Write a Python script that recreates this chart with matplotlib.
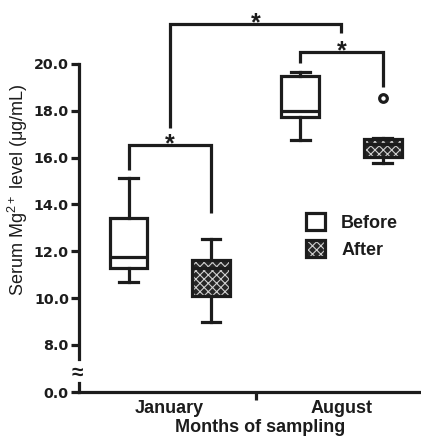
import matplotlib
matplotlib.use('Agg')
import matplotlib.pyplot as plt
from matplotlib.patches import PathPatch, Patch
from matplotlib.ticker import FormatStrFormatter

plt.rcParams['font.family'] = ['Liberation Sans', 'DejaVu Sans']
plt.rcParams['mathtext.fontset'] = 'custom'
plt.rcParams['mathtext.rm'] = 'Liberation Sans'
plt.rcParams['mathtext.it'] = 'Liberation Sans:italic'
plt.rcParams['hatch.linewidth'] = 0.8

# ---------------- data ----------------
months = ['January', 'August']
groups = ['Before', 'After']
# order: Jan-Before, Jan-After, Aug-Before, Aug-After  (µg/mL)
whislo = [10.69, 9.00, 16.75, 15.79]
q1 = [11.29, 10.11, 17.75, 16.02]
med = [11.76, 11.28, 18.01, 16.60]
q3 = [13.40, 11.63, 19.50, 16.78]
whishi = [15.13, 12.53, 19.65, 16.85]
fliers = [[], [], [], [18.53]]
y_ticks = [8, 10, 12, 14, 16, 18, 20]
# significance brackets within month: bar height, left leg end, right leg end
sig_bar = [16.54, 20.51]
sig_left_end = [15.47, 20.04]
sig_right_end = [13.64, 19.02]
# bracket between months
top_bar = 21.71
top_left_end = 17.27
top_right_end = 21.32

# ---------------- layout ----------------
W, H = 421, 440
fig = plt.figure(figsize=(W / 100, H / 100), dpi=100)


def fax(x0, y_top, x1, y_bot):
    return [x0 / W, 1 - y_bot / H, (x1 - x0) / W, (y_bot - y_top) / H]


ax = fig.add_axes(fax(79, 0, 421, 359))
axb = fig.add_axes(fax(79, 383, 421, 392))

dark = '#1c1c1c'
lw = 2.3
d = 0.24
group_x = [1, 2]
positions = [group_x[0] - d, group_x[0] + d, group_x[1] - d, group_x[1] + d]
xlim = (0.4716, 2.463)

stats = [dict(whislo=whislo[i], q1=q1[i], med=med[i], q3=q3[i],
              whishi=whishi[i], fliers=fliers[i]) for i in range(4)]
bp = ax.bxp(stats, positions=positions, widths=0.22, patch_artist=True,
            showfliers=True, manage_ticks=False,
            boxprops=dict(linewidth=lw, edgecolor=dark, facecolor='white'),
            medianprops=dict(color=dark, linewidth=lw),
            whiskerprops=dict(color=dark, linewidth=lw),
            capprops=dict(color=dark, linewidth=lw),
            flierprops=dict(marker='o', markersize=5.5, markerfacecolor='white',
                            markeredgecolor=dark, markeredgewidth=2.3))

after_face = '#262626'
hatch_col = '#d0d0d0'
hatch = 'xxxx'
for i in (1, 3):
    box = bp['boxes'][i]
    box.set_facecolor(after_face)
    box.set_edgecolor(hatch_col)
    box.set_linewidth(0)
    box.set_hatch(hatch)
    ax.add_patch(PathPatch(box.get_path(), transform=ax.transData,
                           facecolor='none', edgecolor=dark, linewidth=lw,
                           zorder=box.get_zorder() + 0.05))

# significance brackets
for k in range(2):
    xl, xr = positions[2 * k], positions[2 * k + 1]
    ax.plot([xl, xl, xr, xr], [sig_left_end[k], sig_bar[k], sig_bar[k], sig_right_end[k]],
            color=dark, lw=lw, solid_capstyle='butt', solid_joinstyle='miter', clip_on=False)
    ax.annotate('*', xy=((xl + xr) / 2, sig_bar[k]), xytext=(0, -4.5),
                textcoords='offset points', ha='center', va='baseline',
                fontsize=18, fontweight='bold', color=dark, annotation_clip=False)
xl = (positions[0] + positions[1]) / 2
xr = (positions[2] + positions[3]) / 2
ax.plot([xl, xl, xr, xr], [top_left_end, top_bar, top_bar, top_right_end],
        color=dark, lw=lw, solid_capstyle='butt', solid_joinstyle='miter', clip_on=False)
ax.annotate('*', xy=((xl + xr) / 2, top_bar), xytext=(0, -4.5),
            textcoords='offset points', ha='center', va='baseline',
            fontsize=18, fontweight='bold', color=dark, annotation_clip=False)

# ---------------- axes styling ----------------
ax.set_xlim(*xlim)
ax.set_ylim(7.40, 22.73)
ax.set_yticks(y_ticks)
ax.yaxis.set_major_formatter(FormatStrFormatter('%.1f'))
for s in ('top', 'right', 'bottom'):
    ax.spines[s].set_visible(False)
ax.spines['left'].set_linewidth(lw)
ax.spines['left'].set_color(dark)
ax.spines['left'].set_bounds(7.40, 20)
ax.tick_params(axis='x', bottom=False, labelbottom=False)
ax.tick_params(axis='y', length=5.8, width=lw, color=dark, pad=1.5)
for t in ax.get_yticklabels():
    t.set_fontfamily('DejaVu Sans')
    t.set_fontweight('bold')
    t.set_fontsize(10.3)
    t.set_color(dark)
ax.set_ylabel(r'Serum Mg$^{2+}$ level (μg/mL)', fontsize=13, color=dark)
ax.yaxis.set_label_coords(-0.142, 1 - 190 / 359)

axb.set_xlim(*xlim)
axb.set_ylim(0, 1)
axb.set_yticks([0])
axb.set_yticklabels(['0.0'])
for s in ('top', 'right'):
    axb.spines[s].set_visible(False)
for s in ('left', 'bottom'):
    axb.spines[s].set_linewidth(lw)
    axb.spines[s].set_color(dark)
axb.patch.set_visible(False)
axb.tick_params(axis='y', length=5.8, width=lw, color=dark, pad=1.5)
for t in axb.get_yticklabels():
    t.set_fontfamily('DejaVu Sans')
    t.set_fontweight('bold')
    t.set_fontsize(10.3)
    t.set_color(dark)
axb.set_xticks([1.5])
axb.set_xticklabels([''])
axb.tick_params(axis='x', which='major', length=6, width=lw, color=dark)
axb.set_xticks(group_x, minor=True)
axb.set_xticklabels(months, minor=True, fontsize=13, fontweight='bold', color=dark)
axb.tick_params(axis='x', which='minor', length=0, pad=6)
axb.set_xlabel('Months of sampling', fontsize=13, fontweight='bold', color=dark,
               labelpad=1, x=(260 - 79) / 342)

fig.text(77 / W, 1 - 373 / H, '≈', ha='center', va='center', fontsize=15,
         fontweight='bold', color=dark)

# legend
h_before = Patch(facecolor='white', edgecolor=dark, linewidth=lw)
h_after = (Patch(facecolor=after_face, edgecolor=hatch_col, hatch=hatch, linewidth=0),
           Patch(facecolor='none', edgecolor=dark, linewidth=lw))
leg = ax.legend([h_before, h_after], groups, loc='upper left',
                bbox_to_anchor=(306 / W, 1 - 213 / H), bbox_transform=fig.transFigure,
                frameon=False, borderpad=0, borderaxespad=0,
                handlelength=1.05, handleheight=1.1, handletextpad=0.9,
                labelspacing=0.45, prop=dict(size=13, weight='bold'))
for t in leg.get_texts():
    t.set_color(dark)

fig.savefig('out.png', dpi=100)
